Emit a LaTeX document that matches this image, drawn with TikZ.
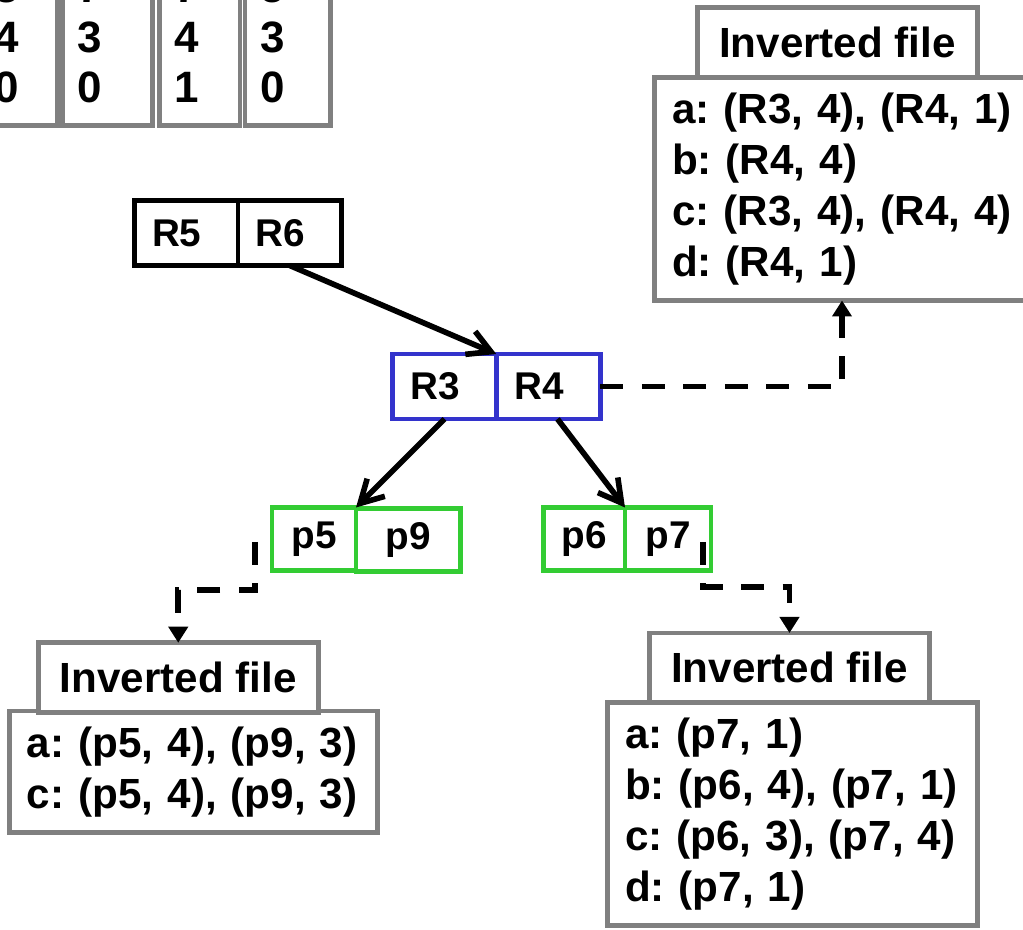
\documentclass[tikz,border=0pt]{standalone}
\usepackage{fontspec}
\setmainfont{Liberation Sans}
\usetikzlibrary{arrows.meta}
\definecolor{nodeblue}{RGB}{51,51,204}
\definecolor{leafgreen}{RGB}{51,204,51}
\begin{document}
\frenchspacing
\begin{tikzpicture}[
  colbox/.style={draw=gray, line width=2.8pt, outer sep=0pt, inner xsep=0.3cm, align=left,
    minimum height=3.52cm, anchor=south west, font=\fontsize{25}{28.45}\selectfont\bfseries},
  rcell/.style={draw, line width=2.8pt, outer sep=0pt, minimum height=1.3cm, text width=1.37cm,
    inner xsep=0.35cm, align=left, font=\fontsize{22}{26}\selectfont\bfseries},
  pcell/.style={draw=leafgreen, line width=2.8pt, outer sep=0pt, minimum height=1.26cm,
    font=\fontsize{22}{26}\selectfont\bfseries},
  fbody/.style={draw=gray, line width=2.8pt, outer sep=0pt, inner xsep=0.35cm, align=left,
    font=\fontsize{24}{29}\selectfont\bfseries\frenchspacing},
  ftitle/.style={draw=gray, fill=white, line width=2.8pt, outer sep=0pt, minimum width=5.6cm,
    minimum height=1.39cm, font=\fontsize{24}{29}\selectfont\bfseries},
  tree/.style={line width=3.2pt, -{Straight Barb[length=0.45cm,width=0.5cm]}},
  link/.style={line width=3.2pt, dash pattern=on 0.46cm off 0.37cm,
    -{Triangle[length=0.32cm,width=0.38cm]}}]
\useasboundingbox (0,0) rectangle (20.46,18.58);
\clip (0,0) rectangle (20.46,18.58);
\node[colbox, text width=0.97cm] (c1) at (-0.42,16.07) {3\\4\\0};
\node[colbox, text width=1.2cm] (c2) at (1.25,16.07) {7\\3\\0};
\node[colbox, text width=1.01cm] (c3) at (3.19,16.07) {7\\4\\1};
\node[colbox, text width=1.11cm] (c4) at (4.90,16.07) {5\\3\\0};
\node[rcell] (r5) at (3.725,13.92) {R5};
\node[rcell] (r6) at (5.795,13.92) {R6};
\node[rcell, draw=nodeblue] (r3) at (8.89,10.85) {R3};
\node[rcell, draw=nodeblue] (r4) at (10.97,10.85) {R4};
\node[pcell, minimum width=1.68cm] (p5) at (6.28,7.80) {p5};
\node[pcell, minimum width=2.09cm] (p9) at (8.165,7.78) {p9};
\node[pcell, minimum width=1.63cm] (p6) at (11.685,7.80) {p6};
\node[pcell, minimum width=1.72cm] (p7) at (13.36,7.80) {p7};
\node[fbody, text width=6.8cm, minimum height=4.46cm] (tbody) at (16.84,14.80)
  {a: (R3, 4), (R4, 1)\\b: (R4, 4)\\c: (R3, 4), (R4, 4)\\d: (R4, 1)};
\node[ftitle] (ttitle) at (16.75,17.73) {Inverted file};
\node[fbody, text width=6.66cm, minimum height=2.43cm] (lbody) at (3.87,3.145)
  {a: (p5, 4), (p9, 3)\\c: (p5, 4), (p9, 3)};
\node[ftitle] (ltitle) at (3.565,5.03) {Inverted file};
\node[fbody, text width=6.7cm, minimum height=4.46cm] (rbody) at (15.85,2.30)
  {a: (p7, 1)\\b: (p6, 4), (p7, 1)\\c: (p6, 3), (p7, 4)\\d: (p7, 1)};
\node[ftitle] (rtitle) at (15.79,5.225) {Inverted file};
\draw[tree] (r6.south) -- (r3.north east);
\draw[tree] (r3.south) -- (p5.north east);
\draw[tree] ([xshift=0.18cm]r4.south) -- (p6.north east);
\draw[link] (r4.east) -| (tbody.south);
\draw[link] ([shift={(-0.34,-0.06)}]p5.west) -- ++(0,-0.96) -| (ltitle.north);
\draw[link] ([shift={(-0.16,-0.06)}]p7.east) -- ++(0,-0.9) -| (rtitle.north);
\end{tikzpicture}
\end{document}
